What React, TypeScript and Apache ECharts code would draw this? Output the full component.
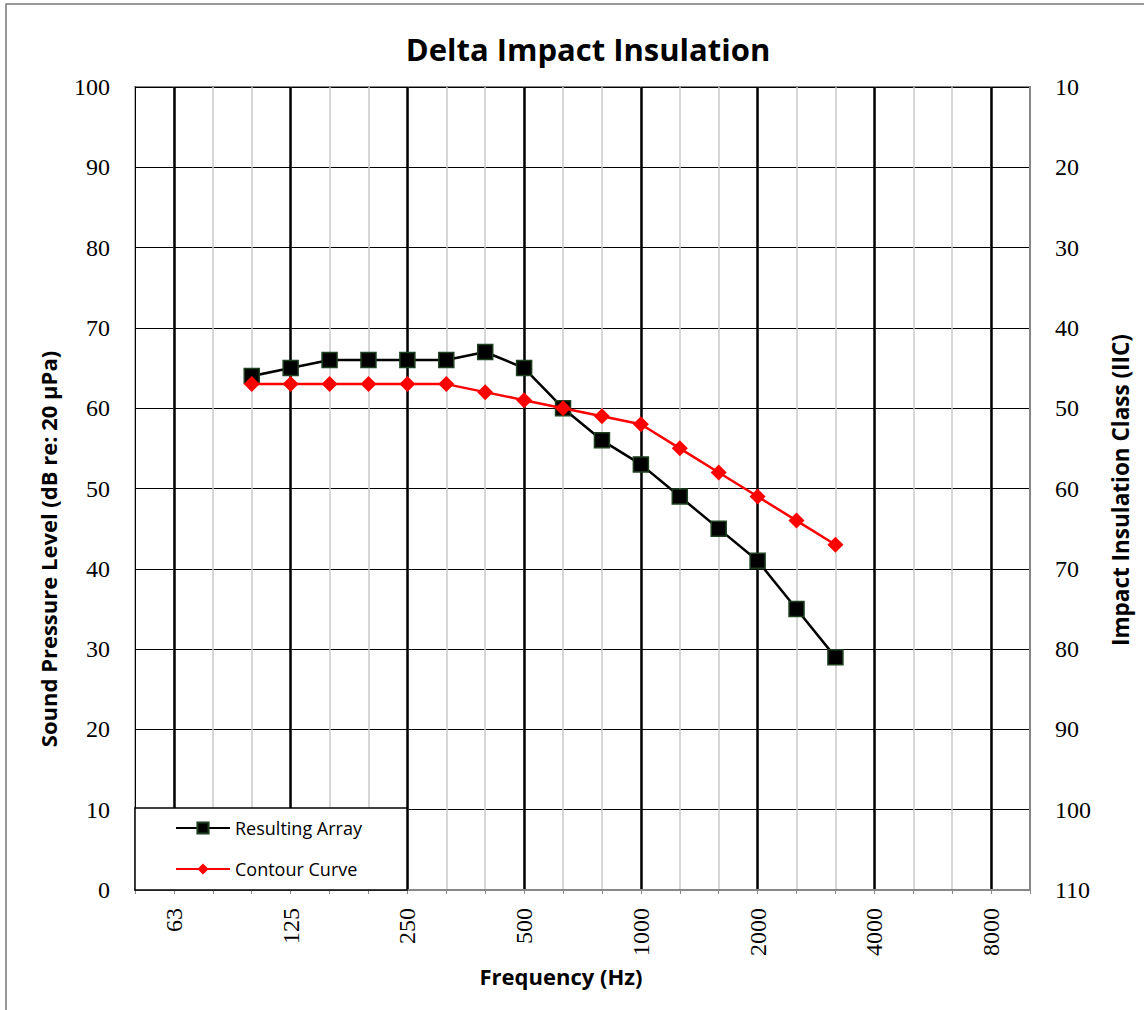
import React, { useEffect, useRef } from "react";
import * as echarts from "echarts";

const bands = ["50", "63", "80", "100", "125", "160", "200", "250", "315", "400", "500", "630", "800", "1000", "1250", "1600", "2000", "2500", "3150", "4000", "5000", "6300", "8000", "10000"];
const octaveLabels = ["63", "125", "250", "500", "1000", "2000", "4000", "8000"];
const dataBands = ["100", "125", "160", "200", "250", "315", "400", "500", "630", "800", "1000", "1250", "1600", "2000", "2500", "3150"];
const resultingArray = [64, 65, 66, 66, 66, 66, 67, 65, 60, 56, 53, 49, 45, 41, 35, 29];
const contourCurve = [63, 63, 63, 63, 63, 63, 62, 61, 60, 59, 58, 55, 52, 49, 46, 43];

const SANS = "'Open Sans', 'Noto Sans', sans-serif";
const SERIF = "'Liberation Serif', 'DejaVu Serif', serif";

export default function App() {
  const ref = useRef<HTMLDivElement>(null);
  useEffect(() => {
    if (!ref.current) return;
    const chart = echarts.init(ref.current, undefined, { renderer: "svg" });
    const isOctave = (i: number) => octaveLabels.includes(bands[i]);
    chart.setOption({
      animation: false,
      backgroundColor: "#fff",
      grid: { left: 135, right: 114, top: 87, bottom: 120, show: true, borderColor: "#888", borderWidth: 2 },
      xAxis: [
        {
          type: "category",
          data: bands,
          boundaryGap: false,
          axisLine: { show: true, lineStyle: { color: "#888", width: 2 } },
          axisTick: { show: true, length: 4, interval: 0, lineStyle: { color: "#888" } },
          axisLabel: {
            interval: (i: number) => isOctave(i),
            rotate: 90,
            margin: 18,
            fontFamily: SERIF,
            fontSize: 24,
            color: "#000",
          },
          splitLine: { show: true, interval: 0, lineStyle: { color: "#c8c8c8", width: 1.5 } },
        },
        {
          type: "category",
          data: bands,
          boundaryGap: false,
          position: "bottom",
          axisLine: { show: false },
          axisTick: { show: false },
          axisLabel: { show: false },
          splitLine: { show: true, interval: (i: number) => isOctave(i), lineStyle: { color: "#000", width: 2.5 } },
        },
      ],
      yAxis: [
        {
          type: "value",
          min: 0,
          max: 100,
          interval: 10,
          position: "left",
          axisLine: { show: true, lineStyle: { color: "#000", width: 1 } },
          axisTick: { show: false },
          axisLabel: { margin: 25, fontFamily: SERIF, fontSize: 24, color: "#000" },
          splitLine: { show: true, lineStyle: { color: "#000", width: 1 } },
        },
        {
          type: "value",
          min: 10,
          max: 110,
          interval: 10,
          inverse: true,
          position: "right",
          axisLine: { show: true, lineStyle: { color: "#888", width: 2 } },
          axisTick: { show: false },
          axisLabel: { margin: 25, fontFamily: SERIF, fontSize: 24, color: "#000" },
          splitLine: { show: false },
        },
      ],
      legend: {
        show: true,
        orient: "vertical",
        left: 175,
        top: 818,
        padding: 0,
        itemWidth: 54,
        itemHeight: 14,
        itemGap: 21,
        z: 10,
        data: ["Resulting Array", "Contour Curve"],
        textStyle: { fontFamily: SANS, fontSize: 18, lineHeight: 20, color: "#000" },
      },
      graphic: [
        {
          type: "rect",
          z: -10,
          silent: true,
          shape: { x: 6, y: 4, width: 1150, height: 1020 },
          style: { fill: "none", stroke: "#777", lineWidth: 1.5 },
        },
        {
          type: "rect",
          z: 5,
          silent: true,
          shape: { x: 135, y: 808, width: 272, height: 82 },
          style: { fill: "#fff", stroke: "#000", lineWidth: 1.5 },
        },
        {
          type: "text",
          x: 588,
          y: 49,
          style: { text: "Delta Impact Insulation", fontFamily: SANS, fontWeight: "bold", fontSize: 31, fill: "#000", align: "center", verticalAlign: "middle" },
        },
        {
          type: "text",
          x: 561,
          y: 976,
          style: { text: "Frequency (Hz)", fontFamily: SANS, fontWeight: "bold", fontSize: 22, fill: "#000", align: "center", verticalAlign: "middle" },
        },
        {
          type: "text",
          x: 48,
          y: 549,
          rotation: Math.PI / 2,
          style: { text: "Sound Pressure Level (dB re: 20 μPa)", fontFamily: SANS, fontWeight: "bold", fontSize: 22, fill: "#000", align: "center", verticalAlign: "middle" },
        },
        {
          type: "text",
          x: 1120,
          y: 490,
          rotation: Math.PI / 2,
          style: { text: "Impact Insulation Class (IIC)", fontFamily: SANS, fontWeight: "bold", fontSize: 22.5, fill: "#000", align: "center", verticalAlign: "middle" },
        },
      ],
      series: [
        {
          name: "Resulting Array",
          type: "line",
          xAxisIndex: 0,
          yAxisIndex: 0,
          data: dataBands.map((b, i) => [b, resultingArray[i]]),
          symbol: "rect",
          symbolSize: 15,
          itemStyle: { color: "#000", borderColor: "#1e4020", borderWidth: 1.5 },
          lineStyle: { color: "#000", width: 2.5 },
          z: 3,
        },
        {
          name: "Contour Curve",
          type: "line",
          xAxisIndex: 0,
          yAxisIndex: 0,
          data: dataBands.map((b, i) => [b, contourCurve[i]]),
          symbol: "diamond",
          symbolSize: 16,
          itemStyle: { color: "#ff0000" },
          lineStyle: { color: "#ff0000", width: 2.5 },
          z: 4,
        },
      ],
    });
    return () => chart.dispose();
  }, []);
  return <div ref={ref} style={{ position: "absolute", left: 0, top: 0, width: 1144, height: 1010 }} />;
}
